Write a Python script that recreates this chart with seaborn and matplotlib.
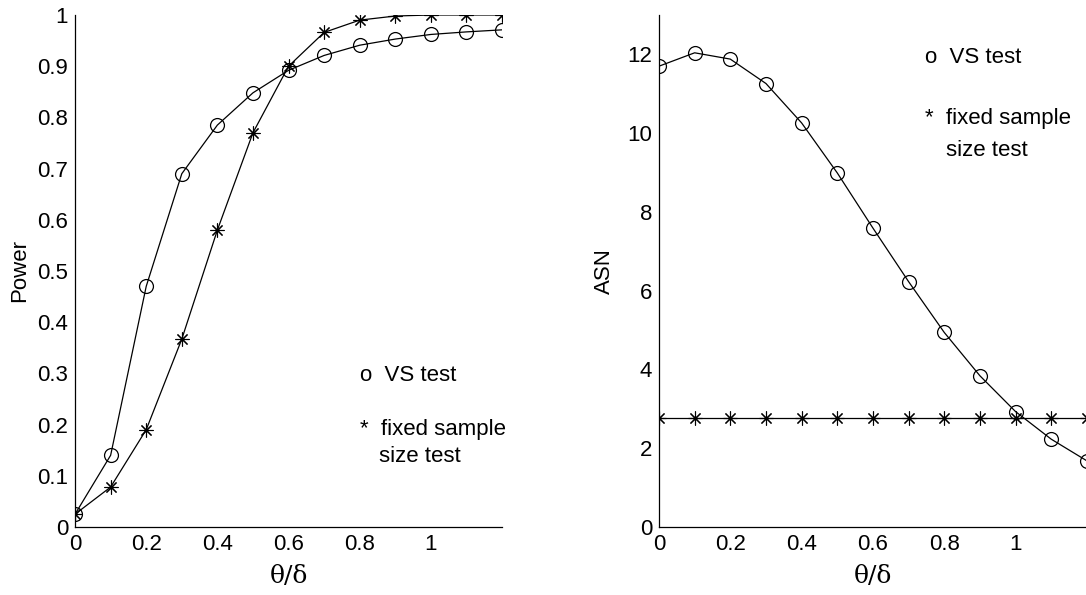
import numpy as np
import pandas as pd
import matplotlib
matplotlib.use('Agg')
import matplotlib.pyplot as plt
import seaborn as sns

sns.set_style('white')
plt.rcParams['font.family'] = ['Liberation Sans', 'DejaVu Sans']
plt.rcParams['text.color'] = 'k'
plt.rcParams['axes.labelcolor'] = 'k'

# theta/delta grid where the markers sit
theta = [0, 0.1, 0.2, 0.3, 0.4, 0.5, 0.6, 0.7, 0.8, 0.9, 1.0, 1.1, 1.2]

# power curves (left panel)
power_vs = [0.025, 0.14, 0.47, 0.69, 0.785, 0.848, 0.892, 0.921, 0.941, 0.953, 0.962, 0.967, 0.971]
power_fixed = [0.025, 0.078, 0.19, 0.367, 0.58, 0.77, 0.90, 0.966, 0.990, 0.998, 1.0, 1.0, 1.0]

# average sample number (right panel)
asn_vs = [11.70, 12.04, 11.88, 11.26, 10.26, 8.99, 7.59, 6.23, 4.94, 3.84, 2.93, 2.23, 1.68]
asn_fixed = [2.77] * 13

df = pd.DataFrame({'theta': theta, 'power_vs': power_vs, 'power_fixed': power_fixed,
                   'asn_vs': asn_vs, 'asn_fixed': asn_fixed})

fig = plt.figure(figsize=(10.86, 5.95), dpi=100)
ax1 = fig.add_axes([0.0691, 0.1143, 0.3932, 0.8605])
ax2 = fig.add_axes([0.6068, 0.1143, 0.3940, 0.8605])

circ = dict(marker='o', markersize=10, markerfacecolor='none', markeredgecolor='k', markeredgewidth=0.9)
star = dict(marker=(8, 2, 0), markersize=10, markeredgecolor='k', markeredgewidth=0.8)

sns.lineplot(x='theta', y='power_vs', data=df, ax=ax1, color='k', lw=0.9, **circ)
sns.lineplot(x='theta', y='power_fixed', data=df, ax=ax1, color='k', lw=0.9, **star)
sns.lineplot(x='theta', y='asn_vs', data=df, ax=ax2, color='k', lw=0.9, **circ)
sns.lineplot(x='theta', y='asn_fixed', data=df, ax=ax2, color='k', lw=0.9, **star)

fs = 16
xt = [0, 0.2, 0.4, 0.6, 0.8, 1.0]
xt_labels = ['0', '0.2', '0.4', '0.6', '0.8', '1']

for ax in (ax1, ax2):
    ax.set_xlim(0, 1.2)
    ax.set_xticks(xt)
    ax.set_xticklabels(xt_labels)
    ax.tick_params(direction='in', length=5, width=0.8, labelsize=fs, pad=5, colors='k')
    ax.spines['top'].set_visible(False)
    ax.spines['right'].set_visible(False)
    for s in ('left', 'bottom'):
        ax.spines[s].set_color('k')
        ax.spines[s].set_linewidth(0.9)
    ax.set_xlabel('θ/δ', fontsize=18, family=['DejaVu Serif'], labelpad=7)

ax1.set_ylim(0, 1)
ax1.set_yticks(np.arange(0, 1.01, 0.1))
ax1.set_yticklabels(['0', '0.1', '0.2', '0.3', '0.4', '0.5', '0.6', '0.7', '0.8', '0.9', '1'])
ax1.set_ylabel('Power', fontsize=fs, labelpad=5)

ax2.set_ylim(0, 13)
ax2.set_yticks([0, 2, 4, 6, 8, 10, 12])
ax2.set_yticklabels(['0', '2', '4', '6', '8', '10', '12'])
ax2.set_ylabel('ASN', fontsize=fs, labelpad=9)

# annotations standing in for a legend
ax1.text(0.80, 0.295, 'o  VS test', fontsize=fs, va='center')
ax1.text(0.80, 0.19, '*  fixed sample', fontsize=fs, va='center')
ax1.text(0.854, 0.137, 'size test', fontsize=fs, va='center')

ax2.text(0.746, 11.93, 'o  VS test', fontsize=fs, va='center')
ax2.text(0.746, 10.38, '*  fixed sample', fontsize=fs, va='center')
ax2.text(0.806, 9.57, 'size test', fontsize=fs, va='center')

fig.savefig('out.png', dpi=100)
